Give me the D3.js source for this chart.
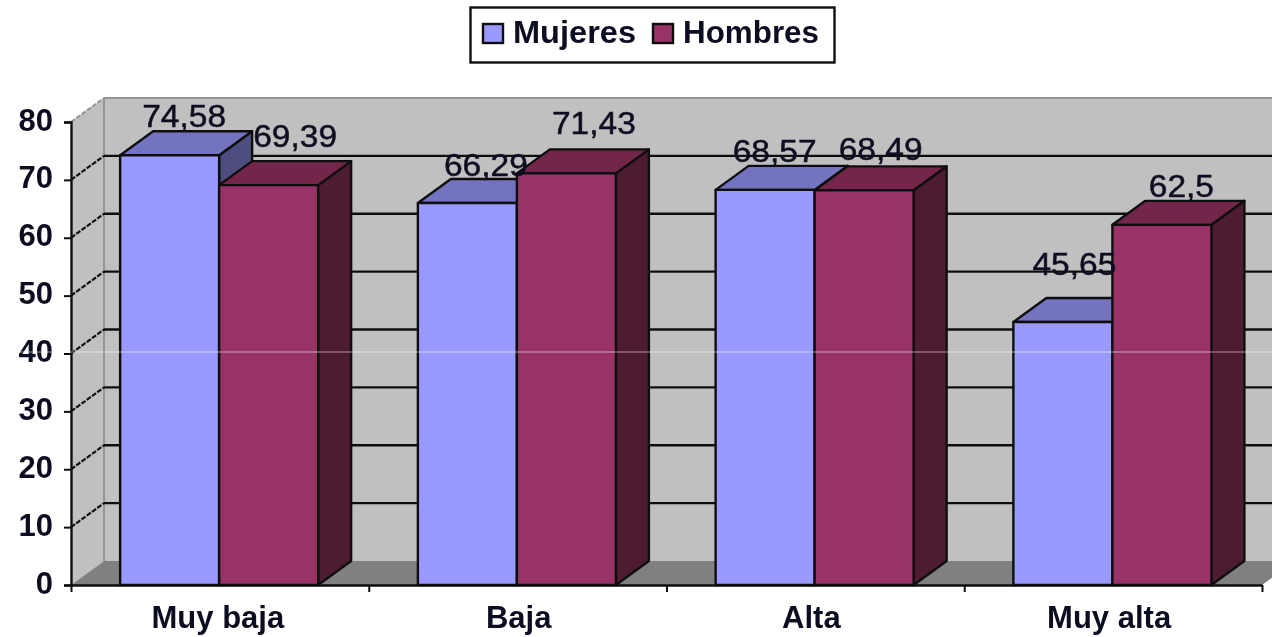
<!DOCTYPE html>
<html>
<head>
<meta charset="utf-8">
<script src="https://cdn.jsdelivr.net/npm/d3@7"></script>
<style>
  html, body { margin: 0; padding: 0; background: #fff; }
  svg { display: block; }
  text { font-family: "Liberation Sans", Arial, sans-serif; fill: #111122; }
</style>
</head>
<body>
<svg id="chart" width="1272" height="637"></svg>
<script>
const categories = ['Muy baja', 'Baja', 'Alta', 'Muy alta'];
const seriesNames = ['Mujeres', 'Hombres'];
const mujeres = [74.58, 66.29, 68.57, 45.65];
const hombres = [69.39, 71.43, 68.49, 62.5];
const mujeresLabels = ['74,58', '66,29', '68,57', '45,65'];
const hombresLabels = ['69,39', '71,43', '68,49', '62,5'];
const yTicks = [0, 10, 20, 30, 40, 50, 60, 70, 80];

// hand-moved labels in the original, px above the top back edge / px right of centre
const labelLift = [[2, 1, 2, 22], [12, 14, 5, 2]];
const labelShift = [[-2, 2, -7, -5], [10, 11, 0, 3]];
const categoryShift = [-2, 1, -4, -4];

const colors = {
  Mujeres: { front: '#9999ff', top: '#7373bf', side: '#4d4d80' },
  Hombres: { front: '#993366', top: '#732649', side: '#4d1a33' }
};

const width = 1272, height = 637;
const x0 = 71, x1 = 1262, yBase = 585, yTop = 122;
const depthX = 33, depthY = 24;

const svg = d3.select('#chart');
const root = svg.append('g').attr('filter', 'url(#soft)');

svg.append('defs').append('filter').attr('id', 'soft')
    .attr('x', 0).attr('y', 0).attr('width', 1).attr('height', 1)
    .attr('filterUnits', 'objectBoundingBox')
    .append('feGaussianBlur').attr('stdDeviation', 0.7);

root.append('rect').attr('width', width).attr('height', height).attr('fill', '#fff');

const y = d3.scaleLinear().domain([0, 80]).range([yBase, yTop]);
// the bars sit a touch lower than the gridlines in the original
const yBar = d3.scaleLinear().domain([0, 80]).range([yBase, yTop + 2]);
const xBand = d3.scaleBand().domain(categories).range([x0, x1]);
const xSeries = d3.scaleBand().domain(seriesNames)
    .range([0, xBand.step() * 0.665])
    .paddingInner(0).paddingOuter(0);
const groupOffset = xBand.step() * 0.165;
const xEdges = d3.scaleLinear().domain([0, categories.length]).range([x0, x1]);

const poly = pts => pts.map(p => p.join(',')).join(' ');

// walls and floor
root.append('polygon')
    .attr('points', poly([[x0 + depthX, yTop - depthY], [width + 5, yTop - depthY], [width + 5, yBase - depthY], [x0 + depthX, yBase - depthY]]))
    .attr('fill', '#c0c0c0');
root.append('polygon')
    .attr('points', poly([[x0, yTop], [x0 + depthX, yTop - depthY], [x0 + depthX, yBase - depthY], [x0, yBase]]))
    .attr('fill', '#c0c0c0');
root.append('polygon')
    .attr('points', poly([[x0, yBase], [x0 + depthX, yBase - depthY], [x1 + depthX, yBase - depthY], [x1, yBase]]))
    .attr('fill', '#808080');

root.append('line').attr('x1', x0 + depthX).attr('x2', x0 + depthX)
    .attr('y1', yTop - depthY).attr('y2', yBase - depthY)
    .attr('stroke', '#949494').attr('stroke-width', 2);
root.append('line').attr('x1', x0 + depthX).attr('x2', width)
    .attr('y1', yTop - depthY).attr('y2', yTop - depthY)
    .attr('stroke', '#949494').attr('stroke-width', 2);
root.append('line').attr('x1', x0).attr('x2', x0 + depthX)
    .attr('y1', yTop).attr('y2', yTop - depthY)
    .attr('stroke', '#949494').attr('stroke-width', 2)
    .attr('stroke-dasharray', '5 1.5');

// gridlines on back and side wall
const grid = yTicks.filter(d => d > 0 && d < 80);
root.append('g').selectAll('line').data(grid).join('line')
    .attr('x1', x0 + depthX).attr('x2', width)
    .attr('y1', d => y(d) - depthY).attr('y2', d => y(d) - depthY)
    .attr('stroke', '#111').attr('stroke-width', 2.4);
root.append('g').selectAll('line').data(grid).join('line')
    .attr('x1', x0).attr('x2', x0 + depthX)
    .attr('y1', d => y(d)).attr('y2', d => y(d) - depthY)
    .attr('stroke', '#111').attr('stroke-width', 2.2)
    .attr('stroke-dasharray', '5 1.5');

// bars
const barW = xSeries.bandwidth();
const seriesData = [mujeres, hombres];
categories.forEach((cat, c) => {
  seriesNames.forEach((name, s) => {
    const bx = xBand(cat) + groupOffset + xSeries(name);
    const by = yBar(seriesData[s][c]);
    const g = root.append('g')
        .attr('stroke', '#111').attr('stroke-width', 2.4).attr('stroke-linejoin', 'round');
    g.append('polygon')
        .attr('points', poly([[bx + barW, by], [bx + barW + depthX, by - depthY], [bx + barW + depthX, yBase - depthY], [bx + barW, yBase]]))
        .attr('fill', colors[name].side);
    g.append('polygon')
        .attr('points', poly([[bx, by], [bx + depthX, by - depthY], [bx + barW + depthX, by - depthY], [bx + barW, by]]))
        .attr('fill', colors[name].top);
    g.append('rect')
        .attr('x', bx).attr('y', by)
        .attr('width', barW).attr('height', yBase - by)
        .attr('fill', colors[name].front);
  });
});

// axes
const yAxis = d3.axisLeft(y).tickValues(yTicks).tickSize(7).tickPadding(11);
const yG = root.append('g').attr('transform', `translate(${x0},0)`).call(yAxis);
yG.selectAll('text')
    .attr('dy', '0.26em')
    .style('font-size', '31px').style('font-weight', 'bold');

const edgeAxis = d3.axisBottom(xEdges)
    .tickValues(d3.range(categories.length + 1)).tickFormat('').tickSize(7).tickSizeOuter(0);
root.append('g').attr('transform', `translate(0,${yBase})`).call(edgeAxis);
root.selectAll('.domain').attr('stroke', '#111').attr('stroke-width', 2.4);
root.selectAll('.tick line').attr('stroke', '#111').attr('stroke-width', 2);

const bandAxis = d3.axisBottom(xBand).tickSize(0).tickPadding(21);
const bG = root.append('g').attr('transform', `translate(0,${yBase})`).call(bandAxis);
bG.select('.domain').remove();
bG.selectAll('text')
    .style('font-size', '31px').style('font-weight', 'bold');
bG.selectAll('.tick').attr('transform', (d, i) => `translate(${xBand(d) + xBand.bandwidth() / 2 + categoryShift[i]},0)`);

// value labels
[mujeresLabels, hombresLabels].forEach((labels, s) => {
  root.append('g').selectAll('text').data(labels).join('text')
      .attr('transform', (d, c) => {
        const bx = xBand(categories[c]) + groupOffset + xSeries(seriesNames[s]);
        const lx = bx + barW / 2 + depthX / 2 + labelShift[s][c];
        const ly = y(seriesData[s][c]) - depthY - labelLift[s][c];
        return `translate(${lx},${ly}) scale(1.08,1)`;
      })
      .attr('text-anchor', 'middle')
      .style('font-size', '31px')
      .style('stroke', '#111122').style('stroke-width', 0.5)
      .text(d => d);
});

// legend
const legend = root.append('g');
legend.append('rect')
    .attr('x', 470.5).attr('y', 7.5).attr('width', 364).attr('height', 55)
    .attr('fill', '#fff').attr('stroke', '#111').attr('stroke-width', 2.4);
const swatchX = d3.scaleOrdinal().domain(seriesNames).range([483, 653]);
const legendItem = legend.selectAll('g').data(seriesNames).join('g')
    .attr('transform', d => `translate(${swatchX(d)},0)`);
legendItem.append('rect')
    .attr('y', 24).attr('width', 20).attr('height', 19)
    .attr('fill', d => colors[d].front)
    .attr('stroke', '#111').attr('stroke-width', 2.4);
legendItem.append('text')
    .attr('x', 30).attr('y', 43)
    .attr('textLength', d => d === 'Mujeres' ? 123 : 136)
    .attr('lengthAdjust', 'spacingAndGlyphs')
    .style('font-size', '32px').style('font-weight', 'bold')
    .text(d => d);

// scan seam that runs across the original picture
root.append('line').attr('x1', 0).attr('x2', width)
    .attr('y1', 352).attr('y2', 352)
    .attr('stroke', '#fff').attr('stroke-opacity', 0.55).attr('stroke-width', 1);
</script>
</body>
</html>
